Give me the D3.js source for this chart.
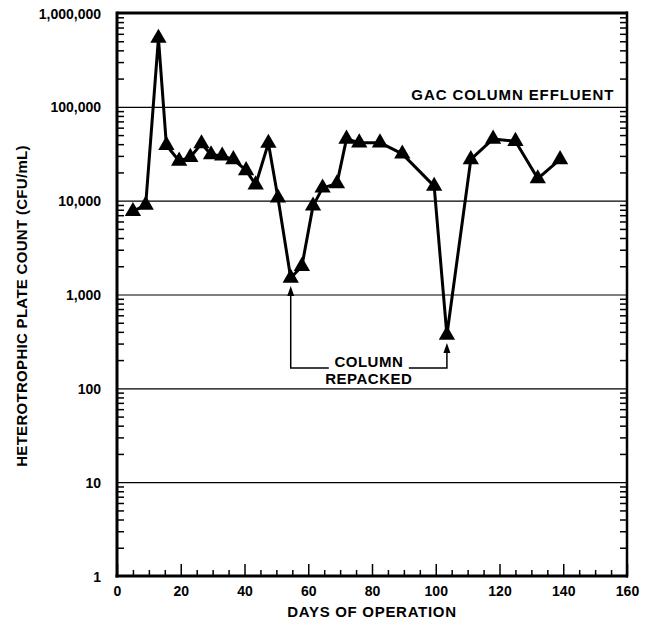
<!DOCTYPE html>
<html>
<head>
<meta charset="utf-8">
<title>GAC Column Effluent</title>
<script src="https://cdn.jsdelivr.net/npm/d3@7"></script>
<style>
  body { margin: 0; background: #fff; }
  svg text { font-family: "Liberation Sans", Arial, Helvetica, sans-serif; font-weight: bold; fill: #000; }
</style>
</head>
<body>
<div id="chart"></div>
<script>
// days of operation
var days = [5, 9, 13, 15.5, 19.5, 23, 26.5, 29.5, 33, 36.5, 40.5, 43.5, 47.5, 50.5, 54.5,
            58, 61.5, 64.5, 69, 72, 76, 82.5, 89.5, 99.5, 103.5, 111, 118, 125, 132, 139];
// heterotrophic plate count, CFU/mL
var counts = [7700, 9000, 540000, 39000, 26500, 29000, 40500, 31000, 30000, 27500, 21000, 14800, 41000, 10700, 1500,
              2000, 8800, 13700, 15200, 45500, 41500, 41500, 31500, 14300, 370, 27500, 45500, 43000, 17200, 27500];
var xTicks = [0, 20, 40, 60, 80, 100, 120, 140, 160];
var yTicks = [1, 10, 100, 1000, 10000, 100000, 1000000];
var repackDays = [54.5, 103.5];
var repackLabel = ["COLUMN", "REPACKED"];
var seriesLabel = "GAC COLUMN EFFLUENT";

var W = 652, H = 628;
var margin = {left: 117, right: 25, top: 13, bottom: 52};
var w = W - margin.left - margin.right, h = H - margin.top - margin.bottom;

var svg = d3.select('#chart').append('svg').attr('width', W).attr('height', H);
var g = svg.append('g').attr('transform', 'translate(' + margin.left + ',' + margin.top + ')');

var x = d3.scaleLinear().domain([0, 160]).range([0, w]);
var y = d3.scaleLog().domain([1, 1000000]).range([h, 0]);

var minorY = [];
yTicks.slice(0, -1).forEach(function(d){ for (var k = 2; k <= 9; k++) minorY.push(d * k); });
var minorX = d3.range(0, 161, 5).filter(function(d){ return d % 20 != 0; });

// grid lines at each decade
g.append('g').call(d3.axisLeft(y).tickValues(yTicks.slice(1, -1)).tickSize(-w).tickFormat(''))
  .call(function(s){ s.select('.domain').remove(); s.selectAll('line').attr('stroke', '#000').attr('stroke-width', 1.2); });

// minor ticks, left and right, inside
g.append('g').call(d3.axisLeft(y).tickValues(minorY).tickSize(-7).tickFormat(''))
  .call(function(s){ s.select('.domain').remove(); s.selectAll('line').attr('stroke-width', 1.5); });
g.append('g').attr('transform', 'translate(' + w + ',0)')
  .call(d3.axisRight(y).tickValues(minorY).tickSize(-7).tickFormat(''))
  .call(function(s){ s.select('.domain').remove(); s.selectAll('line').attr('stroke-width', 1.5); });

// y labels
g.append('g').call(d3.axisLeft(y).tickValues(yTicks).tickSize(0).tickPadding(16).tickFormat(d3.format(',')))
  .call(function(s){ s.select('.domain').remove(); s.selectAll('text').style('font-size', '14px').attr('dy', '0.36em'); });

// x axis
g.append('g').attr('transform', 'translate(0,' + h + ')')
  .call(d3.axisBottom(x).tickValues(minorX).tickSize(-6).tickFormat(''))
  .call(function(s){ s.select('.domain').remove(); s.selectAll('line').attr('stroke-width', 1.5); });
g.append('g').attr('transform', 'translate(0,' + h + ')')
  .call(d3.axisBottom(x).tickValues(xTicks).tickSize(-12).tickPadding(10).tickFormat(d3.format('d')))
  .call(function(s){ s.select('.domain').remove(); s.selectAll('line').attr('stroke-width', 1.5);
    s.selectAll('text').style('font-size', '14px').attr('dy', '0.71em'); });

// frame
g.append('line').attr('x1', 0).attr('x2', 0).attr('y1', -1.5).attr('y2', h + 1.5).attr('stroke', '#000').attr('stroke-width', 3);
g.append('line').attr('x1', -1.5).attr('x2', w + 1).attr('y1', h).attr('y2', h).attr('stroke', '#000').attr('stroke-width', 3);
g.append('line').attr('x1', 0).attr('x2', w + 1).attr('y1', 0).attr('y2', 0).attr('stroke', '#000').attr('stroke-width', 3);
g.append('line').attr('x1', w).attr('x2', w).attr('y1', -1.5).attr('y2', h + 1.5).attr('stroke', '#000').attr('stroke-width', 2.5);

// axis titles
svg.append('text').attr('x', margin.left + x(80)).attr('y', 617)
  .attr('text-anchor', 'middle').style('font-size', '15px').style('letter-spacing', '0.7px')
  .text('DAYS OF OPERATION');
svg.append('text').attr('transform', 'translate(27,306) rotate(-90)')
  .attr('text-anchor', 'middle').style('font-size', '15px').style('letter-spacing', '0.3px')
  .text('HETEROTROPHIC PLATE COUNT (CFU/mL)');

// series
var pts = days.map(function(d, i){ return [d, counts[i]]; });
var line = d3.line().x(function(d){ return x(d[0]); }).y(function(d){ return y(d[1]); });
g.append('path').datum(pts).attr('d', line).attr('fill', 'none').attr('stroke', '#000')
  .attr('stroke-width', 3).attr('stroke-linejoin', 'round');
g.selectAll('.mk').data(pts).enter().append('path').attr('class', 'mk')
  .attr('transform', function(d){ return 'translate(' + x(d[0]) + ',' + y(d[1]) + ')'; })
  .attr('d', d3.symbol(d3.symbolTriangle, 115)).attr('fill', '#000');

// series label
g.append('text').attr('x', x(156)).attr('y', y(100000) - 7)
  .attr('text-anchor', 'end').style('font-size', '15px').style('letter-spacing', '0.9px')
  .text(seriesLabel);

// column repacked annotation
var by = y(165);
var xl = x(repackDays[0]), xr = x(repackDays[1]), xm = (xl + xr) / 2;
var ann = g.append('g');
ann.append('text').attr('x', xm).attr('y', by - 1).attr('text-anchor', 'middle')
  .style('font-size', '15px').style('letter-spacing', '0.5px').text(repackLabel[0]);
ann.append('text').attr('x', xm).attr('y', by + 16).attr('text-anchor', 'middle')
  .style('font-size', '15px').style('letter-spacing', '0.5px').text(repackLabel[1]);
var half = 40;
[[xl, xm - half, repackDays[0]], [xr, xm + half, repackDays[1]]].forEach(function(a){
  var i = days.indexOf(a[2]);
  var tip = y(counts[i]) + 8;
  ann.append('path').attr('d', 'M' + a[1] + ',' + by + 'H' + a[0] + 'V' + (tip + 6))
    .attr('fill', 'none').attr('stroke', '#000').attr('stroke-width', 1.5);
  ann.append('path').attr('d', 'M' + a[0] + ',' + tip + 'l-3.5,10h7z').attr('fill', '#000');
});
</script>
</body>
</html>
